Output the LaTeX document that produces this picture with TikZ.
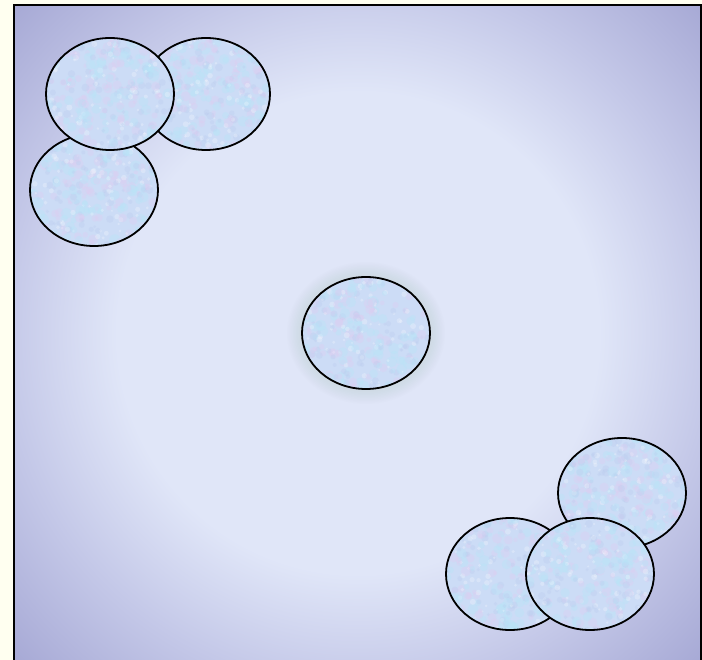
\documentclass[tikz,border=0pt]{standalone}
\usetikzlibrary{shapes.geometric}
\definecolor{ivorybg}{HTML}{FFFFF0}
\definecolor{bgin}{HTML}{E0E6F8}
\definecolor{bgmid}{HTML}{C4C8E8}
\definecolor{bgout}{HTML}{A2A4D2}
\definecolor{cellfill}{HTML}{CCDCF6}
\definecolor{spotpink}{HTML}{E2CAF0}
\definecolor{spotcyan}{HTML}{B8E4F8}
\definecolor{spotblue}{HTML}{BACBEE}
\definecolor{glowc}{HTML}{A8B8A8}
\pgfdeclareradialshading{bgshade}{\pgfpoint{0bp}{0bp}}{%
  color(0bp)=(bgin); color(17bp)=(bgin); color(25bp)=(bgmid); color(35bp)=(bgout); color(50bp)=(bgout)}
\pgfmathsetseed{4242}
\tikzset{
  cell/.style={ellipse, draw=black, line width=1.8pt, fill=cellfill,
    minimum width=128pt, minimum height=112pt, inner sep=0pt,
    path picture={
      \foreach \k in {1,...,90}{
        \fill[spotcyan, opacity=0.4] ([shift={(rand*62pt,rand*56pt)}]path picture bounding box.center) circle ({2.5pt+rnd*3.5pt});
        \fill[spotpink, opacity=0.3] ([shift={(rand*62pt,rand*56pt)}]path picture bounding box.center) circle ({2pt+rnd*3pt});
        \fill[spotblue, opacity=0.3] ([shift={(rand*62pt,rand*56pt)}]path picture bounding box.center) circle ({1.5pt+rnd*2.5pt});
        \fill[white, opacity=0.25] ([shift={(rand*62pt,rand*56pt)}]path picture bounding box.center) circle ({1pt+rnd*2pt});
      }
    }},
}
\begin{document}
\begin{tikzpicture}[x=1pt,y=-1pt]
\useasboundingbox (0,0) rectangle (702,660);
\fill[ivorybg] (0,0) rectangle (702,660);
\begin{scope}
  \clip (14,5) rectangle (702,664);
  \shade[shading=bgshade] (4,-21) rectangle (712,687);
\end{scope}
\draw[line width=2pt] (14,664) -- (14,5) -- (701,5) -- (701,664);
% soft glow around central cell
\foreach \i in {1,...,10}{
  \fill[glowc, opacity=0.025] (366,333) ellipse ({64+\i*1.5} and {56+\i*1.5});
}
% top-left group
\node[cell] (c2) at (206,94) {};
\node[cell] (c3) at (94,190) {};
\node[cell] (c1) at (110,94) {};
% centre
\node[cell] (c4) at (366,333) {};
% bottom-right group
\node[cell, minimum height=110pt] (c5) at (622,493) {};
\node[cell] (c6) at (510,574) {};
\node[cell] (c7) at (590,574) {};
\end{tikzpicture}
\end{document}
